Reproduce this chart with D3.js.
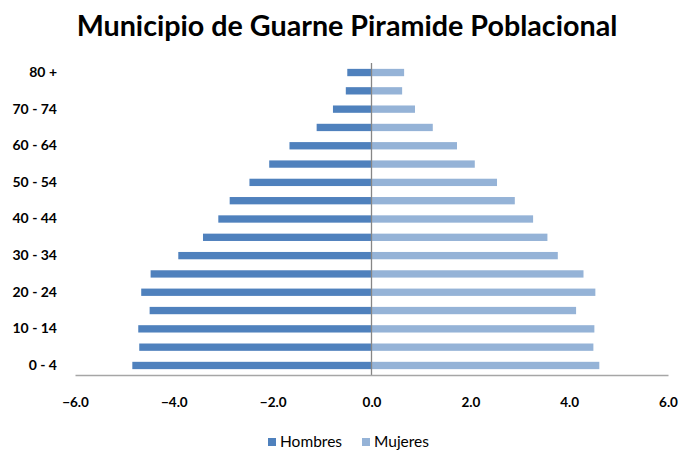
<!DOCTYPE html>
<html lang="es">
<head>
  <meta charset="UTF-8">
  <title>Municipio de Guarne Piramide Poblacional</title>
  <style>
    body, html { margin: 0; padding: 0; background: #fff; }
    #svg { display: block; }
  </style>
</head>
<body>
  <svg id="svg" width="681" height="452"></svg>

  <script src="https://d3js.org/d3.v7.min.js"></script>
  <script>
    // age groups, bottom to top
    const ages = ['0 - 4', '5 - 9', '10 - 14', '15 - 19', '20 - 24', '25 - 29', '30 - 34', '35 - 39',
      '40 - 44', '45 - 49', '50 - 54', '55 - 59', '60 - 64', '65 - 69', '70 - 74', '75 - 79', '80 +']
    // percentages (men shown as negative)
    const hombres = [-4.84, -4.70, -4.72, -4.49, -4.66, -4.47, -3.91, -3.41,
      -3.10, -2.87, -2.47, -2.07, -1.66, -1.11, -0.78, -0.52, -0.49]
    const mujeres = [4.61, 4.49, 4.51, 4.14, 4.53, 4.29, 3.77, 3.56,
      3.27, 2.90, 2.54, 2.09, 1.73, 1.24, 0.88, 0.62, 0.66]
    const xTicks = [-6, -4, -2, 0, 2, 4, 6]
    const series = [
      { name: 'Hombres', values: hombres, color: '#4f81bd' },
      { name: 'Mujeres', values: mujeres, color: '#95b3d7' }
    ]

    const svg = d3.select('#svg')
    const font = 'Lato, "Open Sans", sans-serif'
    const margin = { top: 63, right: 13, bottom: 77, left: 75 }
    const width = 681, height = 452

    const x = d3.scaleLinear()
      .domain([-6, 6])
      .range([margin.left, width - margin.right])

    const y = d3.scaleBand()
      .domain(ages.slice().reverse())
      .range([margin.top, height - margin.bottom])
      .paddingInner(0.6)
      .paddingOuter(0.32)

    // bars
    series.forEach(s => {
      svg.append('g')
        .selectAll('rect')
        .data(ages.map((a, i) => ({ age: a, v: s.values[i] })))
        .join('rect')
        .attr('x', d => Math.min(x(0), x(d.v)))
        .attr('y', d => y(d.age))
        .attr('width', d => Math.abs(x(d.v) - x(0)))
        .attr('height', y.bandwidth())
        .attr('fill', s.color)
    })

    // zero line (vertical axis)
    svg.append('line')
      .attr('x1', x(0)).attr('x2', x(0))
      .attr('y1', margin.top).attr('y2', height - margin.bottom)
      .attr('stroke', '#868686')
      .attr('stroke-width', 1.3)

    // bottom axis
    const xAxis = svg.append('g')
      .attr('transform', `translate(0, ${height - margin.bottom})`)
      .call(d3.axisBottom(x).tickValues(xTicks).tickFormat(d3.format('.1f')).tickSize(0).tickPadding(22))
    xAxis.select('.domain').attr('stroke', '#a6a6a6').attr('stroke-width', 1.5)
    xAxis.selectAll('text')
      .attr('font-family', font)
      .attr('font-weight', 'bold')
      .attr('font-size', 13.5)
      .attr('fill', '#000')

    // age labels, every other group
    const yAxis = svg.append('g')
      .attr('transform', `translate(${margin.left - 18}, 0)`)
      .call(d3.axisLeft(y).tickValues(ages.filter((a, i) => i % 2 === 0)).tickSize(0).tickPadding(0))
    yAxis.select('.domain').remove()
    yAxis.selectAll('text')
      .attr('font-family', font)
      .attr('font-weight', 'bold')
      .attr('font-size', 14)
      .attr('fill', '#000')

    // title
    svg.append('text')
      .text('Municipio de Guarne Piramide Poblacional')
      .attr('x', 347)
      .attr('y', 36)
      .attr('text-anchor', 'middle')
      .attr('font-family', font)
      .attr('font-weight', 'bold')
      .attr('font-size', 28.7)
      .attr('fill', '#000')

    // legend
    const legend = svg.append('g')
      .attr('transform', 'translate(268, 447)')
    const item = legend.selectAll('g')
      .data(series)
      .join('g')
      .attr('transform', (d, i) => `translate(${i * 94}, 0)`)
    item.append('rect')
      .attr('x', 0).attr('y', -9)
      .attr('width', 8).attr('height', 8)
      .attr('fill', d => d.color)
    item.append('text')
      .text(d => d.name)
      .attr('x', 12)
      .attr('y', 0)
      .attr('font-family', font)
      .attr('font-size', 15.5)
      .attr('fill', '#000')
  </script>
</body>
</html>
